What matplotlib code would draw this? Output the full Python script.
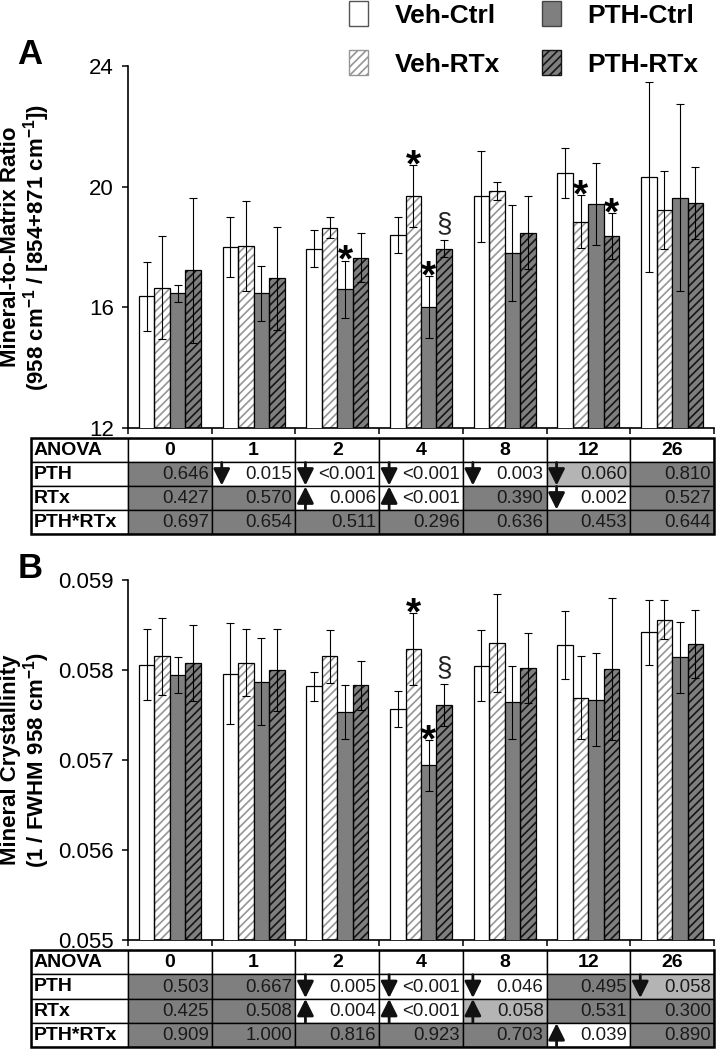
import matplotlib
matplotlib.use('Agg')
import matplotlib.pyplot as plt
from matplotlib.patches import Patch, Rectangle
import numpy as np

plt.rcParams['font.family'] = ['Liberation Sans', 'DejaVu Sans']
plt.rcParams['mathtext.fontset'] = 'custom'
plt.rcParams['mathtext.rm'] = 'Liberation Sans:bold'
plt.rcParams['mathtext.it'] = 'Liberation Sans:bold'
plt.rcParams['mathtext.bf'] = 'Liberation Sans:bold'
plt.rcParams['mathtext.default'] = 'rm'
plt.rcParams['hatch.linewidth'] = 1.2

# ---------------- data ----------------
groups = ['0', '1', '2', '4', '8', '12', '26']
series = ['Veh-Ctrl', 'Veh-RTx', 'PTH-Ctrl', 'PTH-RTx']

# Panel A: mineral-to-matrix ratio
a_veh_ctrl = [16.37, 17.99, 17.95, 18.41, 19.68, 20.45, 20.33]
a_veh_ctrl_sd = [1.14, 1.00, 0.60, 0.60, 1.50, 0.83, 3.15]
a_veh_rtx = [16.65, 18.03, 18.64, 19.68, 19.87, 18.84, 19.23]
a_veh_rtx_sd = [1.70, 1.50, 0.35, 1.03, 0.30, 0.87, 1.30]
a_pth_ctrl = [16.46, 16.46, 16.60, 16.00, 17.80, 19.41, 19.64]
a_pth_ctrl_sd = [0.27, 0.92, 0.95, 1.03, 1.60, 1.36, 3.10]
a_pth_rtx = [17.23, 16.96, 17.65, 17.95, 18.48, 18.37, 19.45]
a_pth_rtx_sd = [2.40, 1.70, 0.80, 0.27, 1.20, 0.76, 1.20]

# Panel B: mineral crystallinity
b_veh_ctrl = [0.05806, 0.05796, 0.05782, 0.05757, 0.05805, 0.05828, 0.05842]
b_veh_ctrl_sd = [0.00039, 0.00056, 0.00016, 0.00020, 0.00040, 0.00038, 0.00036]
b_veh_rtx = [0.05815, 0.05808, 0.05815, 0.05823, 0.05830, 0.05769, 0.05856]
b_veh_rtx_sd = [0.00043, 0.00037, 0.00029, 0.00040, 0.00054, 0.00046, 0.00022]
b_pth_ctrl = [0.05794, 0.05787, 0.05753, 0.05694, 0.05764, 0.05767, 0.05814]
b_pth_ctrl_sd = [0.00020, 0.00048, 0.00030, 0.00028, 0.00041, 0.00052, 0.00039]
b_pth_rtx = [0.05808, 0.05800, 0.05783, 0.05761, 0.05802, 0.05801, 0.05829]
b_pth_rtx_sd = [0.00042, 0.00046, 0.00027, 0.00023, 0.00039, 0.00079, 0.00038]

# significance marks: (group index, series index, symbol)
a_marks = [(2, 2, '*'), (3, 1, '*'), (3, 2, '*'), (3, 3, '§'), (5, 1, '*'), (5, 3, '*')]
b_marks = [(3, 1, '*'), (3, 2, '*'), (3, 3, '§')]

# ANOVA tables
anova_rows = ['PTH', 'RTx', 'PTH*RTx']
a_pth_p = ['0.646', '0.015', '<0.001', '<0.001', '0.003', '0.060', '0.810']
a_rtx_p = ['0.427', '0.570', '0.006', '<0.001', '0.390', '0.002', '0.527']
a_int_p = ['0.697', '0.654', '0.511', '0.296', '0.636', '0.453', '0.644']
a_pth_arrow = ['', 'down', 'down', 'down', 'down', 'down', '']
a_rtx_arrow = ['', '', 'up', 'up', '', 'down', '']
a_int_arrow = ['', '', '', '', '', '', '']

b_pth_p = ['0.503', '0.667', '0.005', '<0.001', '0.046', '0.495', '0.058']
b_rtx_p = ['0.425', '0.508', '0.004', '<0.001', '0.058', '0.531', '0.300']
b_int_p = ['0.909', '1.000', '0.816', '0.923', '0.703', '0.039', '0.890']
b_pth_arrow = ['', '', 'down', 'down', 'down', '', 'down']
b_rtx_arrow = ['', '', 'up', 'up', 'up', '', '']
b_int_arrow = ['', '', '', '', '', 'up', '']

# ---------------- styling ----------------
W, H = 716, 1049
GRAY = '#7f7f7f'
LIGHT = '#b4b4b4'
fig = plt.figure(figsize=(W / 100, H / 100), dpi=100)


def fx(px):
    return px / W


def fy(py):
    return 1 - py / H


AX_L, AX_R = 128, 714
LABEL_L = 31
bar_w = 0.185
offsets = (np.arange(4) - 1.5) * bar_w
styles = [
    dict(face='white', hatch=None, hcol=None),
    dict(face='white', hatch='////', hcol='#959595'),
    dict(face=GRAY, hatch=None, hcol=None),
    dict(face=GRAY, hatch='////', hcol='#151515'),
]


def draw_panel(top, bottom, means, sds, ylim, yticks, yticklabels, marks, letter, ylab1, ylab2):
    ax = fig.add_axes([fx(AX_L), fy(bottom), fx(AX_R) - fx(AX_L), (bottom - top) / H])
    x = np.arange(len(groups))
    tops = []
    for i, (m, s, st) in enumerate(zip(means, sds, styles)):
        xi = x + offsets[i]
        if st['hatch']:
            ax.bar(xi, m, bar_w, color=st['face'], edgecolor=st['hcol'], hatch=st['hatch'],
                   linewidth=0, zorder=2)
            ax.bar(xi, m, bar_w, fill=False, edgecolor='black', linewidth=0.9, zorder=3)
        else:
            ax.bar(xi, m, bar_w, color=st['face'], edgecolor='black', linewidth=0.9, zorder=3)
        ax.errorbar(xi, m, yerr=s, fmt='none', ecolor='black', elinewidth=0.8,
                    capsize=2.6, capthick=0.8, zorder=4)
        tops.append(np.array(m) + np.array(s))
    for g, si, sym in marks:
        xx = g + offsets[si]
        yy = tops[si][g]
        if sym == '*':
            ax.annotate(sym, xy=(xx, yy), xytext=(0, -8), textcoords='offset points',
                        ha='center', va='baseline', fontsize=28, fontweight='bold', zorder=5)
        else:
            ax.annotate(sym, xy=(xx, yy), xytext=(0, 2), textcoords='offset points',
                        ha='center', va='bottom', fontsize=20, color='#222222', zorder=5)
    ax.set_xlim(-0.5, len(groups) - 0.5)
    ax.set_ylim(*ylim)
    ax.set_yticks(yticks)
    ax.set_yticklabels(yticklabels, fontsize=16)
    ax.set_xticks(np.arange(len(groups) + 1) - 0.5)
    ax.set_xticklabels([])
    ax.tick_params(axis='both', direction='out', length=4, width=1.1, pad=6)
    for sp in ['top', 'right']:
        ax.spines[sp].set_visible(False)
    for sp in ['left', 'bottom']:
        ax.spines[sp].set_linewidth(1.2)
    ymid = (top + bottom) / 2
    fig.text(fx(11), fy(ymid), ylab1, rotation=90, ha='center', va='center',
             fontsize=16, fontweight='bold')
    fig.text(fx(37), fy(ymid), ylab2, rotation=90, ha='center', va='center',
             fontsize=16, fontweight='bold')
    fig.text(fx(30), fy(top - 12), letter, ha='center', va='center', fontsize=25,
             fontweight='bold')
    return ax


def draw_table(top, bottom, pvals, arrows):
    tab = fig.add_axes([fx(LABEL_L), fy(bottom), fx(AX_R) - fx(LABEL_L), (bottom - top) / H])
    upx = len(groups) / (AX_R - AX_L)  # data units per pixel
    xl = -0.5 - (AX_L - LABEL_L) * upx
    tab.set_xlim(xl, len(groups) - 0.5)
    tab.set_ylim(4, 0)
    tab.axis('off')
    fs = 14
    fv = 13.4
    # header
    tab.add_patch(Rectangle((xl, 0), -0.5 - xl, 1, facecolor='white', edgecolor='black', lw=1.0))
    tab.text(xl + 3 * upx, 0.52, 'ANOVA', ha='left', va='center', fontsize=fs, fontweight='bold')
    for j, g in enumerate(groups):
        tab.add_patch(Rectangle((j - 0.5, 0), 1, 1, facecolor='white', edgecolor='black', lw=1.0))
        tab.text(j, 0.52, g, ha='center', va='center', fontsize=fs, fontweight='bold')
    for r, (name, pv, ar) in enumerate(zip(anova_rows, pvals, arrows), start=1):
        tab.add_patch(Rectangle((xl, r), -0.5 - xl, 1, facecolor='white', edgecolor='black', lw=1.0))
        tab.text(xl + 3 * upx, r + 0.52, name, ha='left', va='center', fontsize=fs,
                 fontweight='bold')
        for j, (p, a) in enumerate(zip(pv, ar)):
            val = float(p.replace('<', ''))
            col = 'white' if val < 0.05 else (LIGHT if val < 0.1 else GRAY)
            tab.add_patch(Rectangle((j - 0.5, r), 1, 1, facecolor=col, edgecolor='black', lw=1.0))
            tab.text(j + 0.5 - 3 * upx, r + 0.54, p, ha='right', va='center', fontsize=fv,
                     color='#1a1a1a')
            if a:
                xa = j - 0.5 + 10 * upx
                y0, y1 = (r + 0.02, r + 0.98) if a == 'down' else (r + 0.98, r + 0.02)
                tab.annotate('', xy=(xa, y1), xytext=(xa, y0),
                             arrowprops=dict(arrowstyle='-|>,head_length=1.0,head_width=0.5',
                                             lw=2, color='#111111', mutation_scale=10,
                                             shrinkA=0, shrinkB=0))
    tab.add_patch(Rectangle((xl, 0), len(groups) - 0.5 - xl, 4, fill=False, edgecolor='black',
                            lw=1.8, clip_on=False))
    return tab


draw_panel(66, 428,
           [a_veh_ctrl, a_veh_rtx, a_pth_ctrl, a_pth_rtx],
           [a_veh_ctrl_sd, a_veh_rtx_sd, a_pth_ctrl_sd, a_pth_rtx_sd],
           (12, 24), [12, 16, 20, 24], ['12', '16', '20', '24'], a_marks, 'A',
           'Mineral-to-Matrix Ratio', '(958 cm$^{-1}$ / [854+871 cm$^{-1}$])')
draw_table(438, 534, [a_pth_p, a_rtx_p, a_int_p], [a_pth_arrow, a_rtx_arrow, a_int_arrow])

draw_panel(580, 940,
           [b_veh_ctrl, b_veh_rtx, b_pth_ctrl, b_pth_rtx],
           [b_veh_ctrl_sd, b_veh_rtx_sd, b_pth_ctrl_sd, b_pth_rtx_sd],
           (0.055, 0.059), [0.055, 0.056, 0.057, 0.058, 0.059],
           ['0.055', '0.056', '0.057', '0.058', '0.059'], b_marks, 'B',
           'Mineral Crystallinity', '(1 / FWHM 958 cm$^{-1}$)')
draw_table(950, 1047, [b_pth_p, b_rtx_p, b_int_p], [b_pth_arrow, b_rtx_arrow, b_int_arrow])

# legend
handles = [
    Patch(facecolor='white', edgecolor='#555555', linewidth=1.0),
    Patch(facecolor='white', edgecolor='#959595', hatch='////', linewidth=1.0),
    Patch(facecolor=GRAY, edgecolor='#444444', linewidth=1.0),
    Patch(facecolor=GRAY, edgecolor='#151515', hatch='////', linewidth=1.0),
]
fig.legend(handles, [series[0], series[1], series[2], series[3]], ncol=2,
           loc='upper left', bbox_to_anchor=(fx(349), fy(1)), frameon=False,
           prop=dict(weight='bold', size=19), handlelength=0.72, handleheight=1.1,
           handletextpad=1.0, columnspacing=1.6, labelspacing=0.85,
           borderpad=0, borderaxespad=0)

fig.savefig('out.png', dpi=100)
